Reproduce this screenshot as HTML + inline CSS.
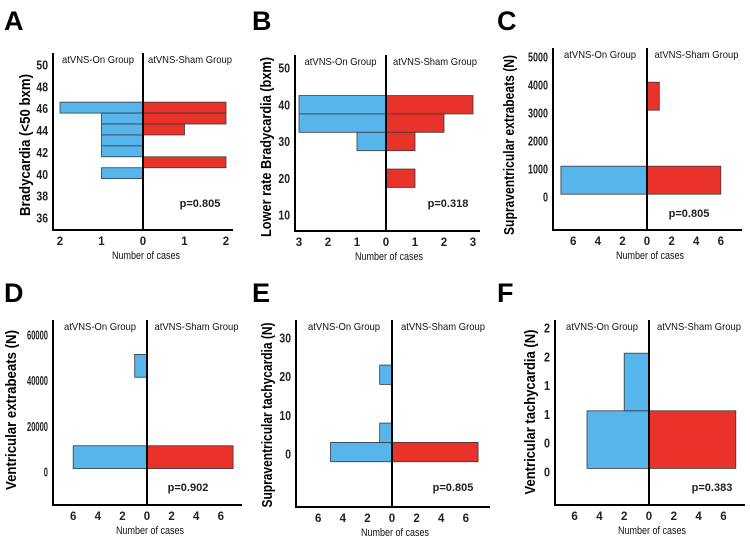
<!DOCTYPE html>
<html><head><meta charset="utf-8"><style>
html,body{margin:0;padding:0;background:#fff;}
svg{display:block;font-family:"Liberation Sans",Arial,sans-serif;}
</style></head><body>
<svg id="fig" width="750" height="545" viewBox="0 0 750 545"></svg>
<script>
// ---- data arrays ----
const aBins=[46.1,45.1,44.1,43.1,42.1,41.1,40.1];
const aOn=[2,1,1,1,1,0,1];
const aSham=[2,2,1,0,0,2,0];
const aTicks=[50,48,46,44,42,40,38,36];
const aXTicks=[2,1,0,1,2];
const bBins=[40,35,30,20];
const bOn=[3,3,1,0];
const bSham=[3,2,1,1];
const bTicks=[50,40,30,20,10];
const bXTicks=[3,2,1,0,1,2,3];
const cBins=[600,3600];
const cOn=[7,0];
const cSham=[6,1];
const cTicks=[5000,4000,3000,2000,1000,0];
const cXTicks=[6,4,2,0,2,4,6];
const dBins=[6500,46500];
const dOn=[6,1];
const dSham=[7,0];
const dTicks=[60000,40000,20000,0];
const dXTicks=[6,4,2,0,2,4,6];
const eBins=[0.5,5.5,20.5];
const eOn=[5,1,1];
const eSham=[7,0,0];
const eTicks=[30,20,10,0];
const eXTicks=[6,4,2,0,2,4,6];
const fBins=[0.45,1.25];
const fOn=[5,2];
const fSham=[7,0];
const fTickVals=[2.0,1.6,1.2,0.8,0.4,0];
const fTickLabels=["2","2","1","1","0","0"];
const fXTicks=[6,4,2,0,2,4,6];

const NS="http://www.w3.org/2000/svg";
const svg=document.getElementById('fig');
function mk(tag,attrs,parent,text){const e=document.createElementNS(NS,tag);for(const k in attrs)e.setAttribute(k,attrs[k]);if(text!==undefined)e.textContent=text;(parent||svg).appendChild(e);return e;}

function panel(p){
  const g=mk('g',{});
  
  
  const yS=v=>p.y1px+(v-p.y1)*(p.y2px-p.y1px)/(p.y2-p.y1);
  const xS=n=>n*p.xPer;
  const letter=mk('text',{x:p.lx,y:p.ly,'font-size':27,'font-weight':'bold'},g,p.id);
  
  
  const half=p.binW/2;
  p.bins.forEach((b,i)=>{
    const yt=yS(b+half), yb=yS(b-half);
    if(p.on[i]>0){
      const r=mk('rect',{x:p.zero-xS(p.on[i]),y:yt,width:xS(p.on[i]),height:yb-yt,fill:'#56b5ea',stroke:'#3a3a3a','stroke-width':0.8},g);
      
      
    }
    if(p.sham[i]>0){
      const r=mk('rect',{x:p.zero,y:yt,width:xS(p.sham[i]),height:yb-yt,fill:'#e8322a',stroke:'#3a3a3a','stroke-width':0.8},g);
      
      
    }
  });
  const ax=mk('path',{d:`M${p.left},${p.top}V${p.bottom}H${p.right}`,fill:'none',stroke:'#000','stroke-width':2},g);
  
  
  const zl=mk('line',{x1:p.zero,y1:p.top,x2:p.zero,y2:p.bottom,stroke:'#000','stroke-width':2},g);
  
  
  p.yTicks.forEach((v,i)=>{
    const s=p.yLabels?p.yLabels[i]:String(v);
    const t=mk('text',{x:p.left-5,y:yS(v)+4.5,'text-anchor':'end','font-size':12.5,'font-weight':'bold',fill:'#222',textLength:s.length*p.cw,lengthAdjust:'spacingAndGlyphs'},g,s);
    
    
  });
  const n=p.xTicks.length, mid=(n-1)/2;
  p.xTicks.forEach((v,i)=>{
    const sign=i<mid?-1:1;
    const t=mk('text',{x:p.zero+sign*xS(v),y:p.bottom+15,'text-anchor':'middle','font-size':11.5,'font-weight':'bold',fill:'#222'},g,String(v));
    
    
  });
  const xt=mk('text',{x:p.zero+3,y:p.bottom+29,'text-anchor':'middle','font-size':11,fill:'#111',textLength:68,lengthAdjust:'spacingAndGlyphs'},g,'Number of cases');
  
  
  const h1=mk('text',{x:(p.left+p.zero)/2,y:p.top+10,'text-anchor':'middle','font-size':10.5,fill:'#111',textLength:p.hw1,lengthAdjust:'spacingAndGlyphs'},g,'atVNS-On Group');
  
  
  const h2=mk('text',{x:(p.zero+p.right)/2+2,y:p.top+10,'text-anchor':'middle','font-size':10.5,fill:'#111',textLength:p.hw2,lengthAdjust:'spacingAndGlyphs'},g,'atVNS-Sham Group');
  
  
  const pv=mk('text',{x:p.px,y:p.py,'text-anchor':'middle','font-size':11,'font-weight':'bold',fill:'#222'},g,p.pval);
  
  
  const yt=mk('text',{x:0,y:0,'text-anchor':'middle','font-size':14.5,'font-weight':'bold',transform:`translate(${p.tx},${p.ty}) rotate(-90)`,textLength:p.tl,lengthAdjust:'spacingAndGlyphs'},g,p.title);
  
  
}

panel({id:'A',lx:4,ly:30,left:53,zero:143,right:233,top:53,bottom:230,xPer:41.5,cw:5.8,
  y1:50,y1px:65,y2:36,y2px:218,binW:1,bins:aBins,on:aOn,sham:aSham,yTicks:aTicks,xTicks:aXTicks,
  hw1:72,hw2:84,px:200,py:207,pval:'p=0.805',tx:30,ty:145,tl:142,title:'Bradycardia (<50 bxm)'});
panel({id:'B',lx:252,ly:30,left:295,zero:386,right:480,top:55,bottom:231,xPer:29,cw:5.8,
  y1:50,y1px:68,y2:10,y2px:215,binW:5,bins:bBins,on:bOn,sham:bSham,yTicks:bTicks,xTicks:bXTicks,
  hw1:72,hw2:84,px:448,py:207,pval:'p=0.318',tx:271,ty:147,tl:180,title:'Lower rate Bradycardia (bxm)'});
panel({id:'C',lx:497,ly:30,left:553,zero:647,right:742,top:48,bottom:230,xPer:12.3,cw:5,
  y1:5000,y1px:57,y2:0,y2px:197,binW:1000,bins:cBins,on:cOn,sham:cSham,yTicks:cTicks,xTicks:cXTicks,
  hw1:72,hw2:84,px:689,py:217,pval:'p=0.805',tx:514,ty:145,tl:180,title:'Supraventricular extrabeats (N)'});
panel({id:'D',lx:4,ly:302,left:53,zero:147,right:242,top:320,bottom:505,xPer:12.3,cw:4.2,
  y1:60000,y1px:335,y2:0,y2px:472,binW:10000,bins:dBins,on:dOn,sham:dSham,yTicks:dTicks,xTicks:dXTicks,
  hw1:72,hw2:84,px:188,py:491,pval:'p=0.902',tx:16,ty:410,tl:160,title:'Ventricular extrabeats (N)'});
panel({id:'E',lx:252,ly:302,left:296,zero:392,right:490,top:320,bottom:507,xPer:12.3,cw:5.8,
  y1:30,y1px:338,y2:0,y2px:454,binW:5,bins:eBins,on:eOn,sham:eSham,yTicks:eTicks,xTicks:eXTicks,
  hw1:72,hw2:84,px:453,py:491,pval:'p=0.805',tx:272,ty:415,tl:185,title:'Supraventricular tachycardia (N)'});
panel({id:'F',lx:497,ly:302,left:555,zero:649,right:745,top:320,bottom:505,xPer:12.4,cw:6,
  y1:2,y1px:328,y2:0,y2px:472,binW:0.8,bins:fBins,on:fOn,sham:fSham,yTicks:fTickVals,yLabels:fTickLabels,xTicks:fXTicks,
  hw1:72,hw2:84,px:712,py:491,pval:'p=0.383',tx:535,ty:412,tl:165,title:'Ventricular tachycardia (N)'});
</script>
</body></html>
